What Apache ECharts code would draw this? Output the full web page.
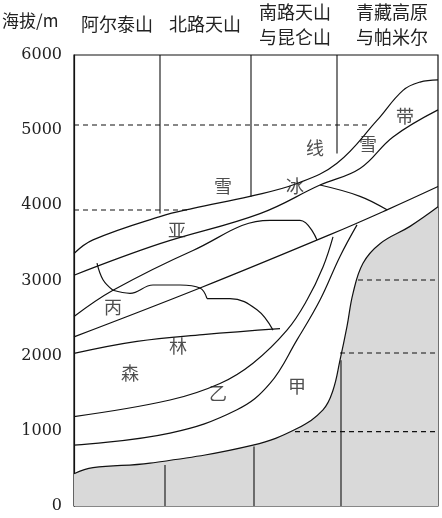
<!DOCTYPE html>
<html>
<head>
<meta charset="utf-8">
<script src="https://cdn.jsdelivr.net/npm/echarts@6/dist/echarts.min.js"></script>
<style>
html,body{margin:0;padding:0;background:#fff;}
#main{width:442px;height:518px;}
</style>
</head>
<body>
<div id="main"></div>
<script>
//海拔刻度
var yTicks = [0, 1000, 2000, 3000, 4000, 5000, 6000];
//山地名称
var mountainNames = ["阿尔泰山", "北路天山", "南路天山\n与昆仑山", "青藏高原\n与帕米尔"];

//各条分界线 [水平位置, 海拔m]
var lineA = [[0,3360],[19,3540],[86,3850],[119,3960],[176,4120],[223,4290],[263,4560],[303,5130],[329,5530],[346,5640],[364,5670]];
var lineB = [[0,3070],[86,3490],[186,3890],[246,4270],[286,4490],[319,4910],[364,5270]];
var lineC = [[0,2520],[39,2870],[119,3400],[196,3800],[226,3800],[243,3540]];
var lineBing = [[23,3230],[29,3010],[39,2870]];
var lineWavy = [[39,2870],[56,2830],[79,2940],[106,2940],[126,2900],[133,2760]];
var lineD = [[0,2250],[126,2900],[256,3610],[313,3940],[364,4250]];
var lineSnow = [[246,4270],[286,4120],[313,3940]];
var lineLinTop = [[133,2760],[156,2760],[183,2610],[199,2340]];
var lineE = [[0,2030],[63,2190],[129,2280],[206,2360]];
var lineF = [[0,1190],[96,1410],[146,1630],[179,1900],[213,2340],[233,2740],[249,3180],[259,3580]];
var lineG = [[0,810],[96,970],[163,1280],[196,1630],[223,2210],[246,2740],[266,3320],[283,3740]];
//灰色山体
var lineGrey = [[0,430],[19,510],[76,570],[179,810],[223,1030],[249,1280],[259,1540],[266,1940],[273,2390],[279,2830],[289,3230],[306,3490],[336,3720],[364,3980]];

//网格线
var vLines = [[[86,3890],[86,6000]], [[177,4115],[177,6000]], [[263,4690],[263,6000]],
	[[91,0],[91,546]], [[180,0],[180,790]], [[267,0],[267,1940]]];
var dLines = [[[0,5068],[293,5068]], [[0,3937],[116,3937]],
	[[284,3006],[364,3006]], [[266,2035],[364,2035]], [[221,989],[364,989]]];

//文字
var zoneLabels = [
	{name:"亚", value:[103,3670]}, {name:"雪", value:[149,4250]}, {name:"线", value:[241,4760]},
	{name:"冰", value:[221,4250]}, {name:"雪", value:[294,4820]}, {name:"带", value:[331,5180]},
	{name:"丙", value:[39,2650]}, {name:"林", value:[104,2120]}, {name:"森", value:[56,1765]},
	{name:"乙", value:[144,1500]}, {name:"甲", value:[223,1590]}
];

var font = '"Noto Sans CJK SC", sans-serif';
var series = [];
series.push({
	type: 'line', data: lineGrey, smooth: 0.4, symbol: 'none', z: 1,
	lineStyle: {color: '#111', width: 1.2},
	areaStyle: {color: '#d9d9d9', opacity: 1}
});
[lineA, lineB, lineC, lineBing, lineWavy, lineD, lineSnow, lineLinTop, lineE, lineF, lineG].forEach(function(d) {
	series.push({
		type: 'line', data: d, smooth: 0.4, symbol: 'none', z: 3,
		lineStyle: {color: '#111', width: 1.2}
	});
});
vLines.forEach(function(d) {
	series.push({type: 'line', data: d, symbol: 'none', z: 2, lineStyle: {color: '#111', width: 1.1}});
});
dLines.forEach(function(d) {
	series.push({type: 'line', data: d, symbol: 'none', z: 2, lineStyle: {color: '#111', width: 1.1, type: [5, 4]}});
});
series.push({
	type: 'scatter', data: zoneLabels, symbolSize: 0, z: 5,
	label: {show: true, position: 'inside', formatter: '{b}', fontSize: 18, color: '#222', fontFamily: font}
});

var titleX = [117, 205, 295, 392];
var graphics = [{type: 'text', left: 2, top: 12, style: {text: '海拔/m', fill: '#222', font: '17px ' + font}}];
mountainNames.forEach(function(n, i) {
	var two = n.indexOf('\n') >= 0;
	graphics.push({
		type: 'text', x: titleX[i], y: two ? 0 : 12,
		style: {text: n, textAlign: 'center', fill: '#222', font: '18px ' + font, lineHeight: 25}
	});
});

var chart = echarts.init(document.getElementById('main'));
chart.setOption({
	animation: false,
	grid: {left: 74, right: 4, top: 55, bottom: 12, show: true, borderColor: '#111', borderWidth: 1.2},
	xAxis: {type: 'value', min: 0, max: 364, show: false},
	yAxis: {
		type: 'value', min: 0, max: 6000, interval: 1000,
		axisLine: {show: true, lineStyle: {color: '#111', width: 1.2}},
		axisTick: {show: false}, splitLine: {show: false},
		axisLabel: {fontSize: 16, color: '#222', margin: 12, fontFamily: '"DejaVu Serif", serif',
			formatter: function(v) { return yTicks.indexOf(v) >= 0 ? String(v) : ''; }}
	},
	graphic: graphics,
	series: series
});
</script>
</body>
</html>
